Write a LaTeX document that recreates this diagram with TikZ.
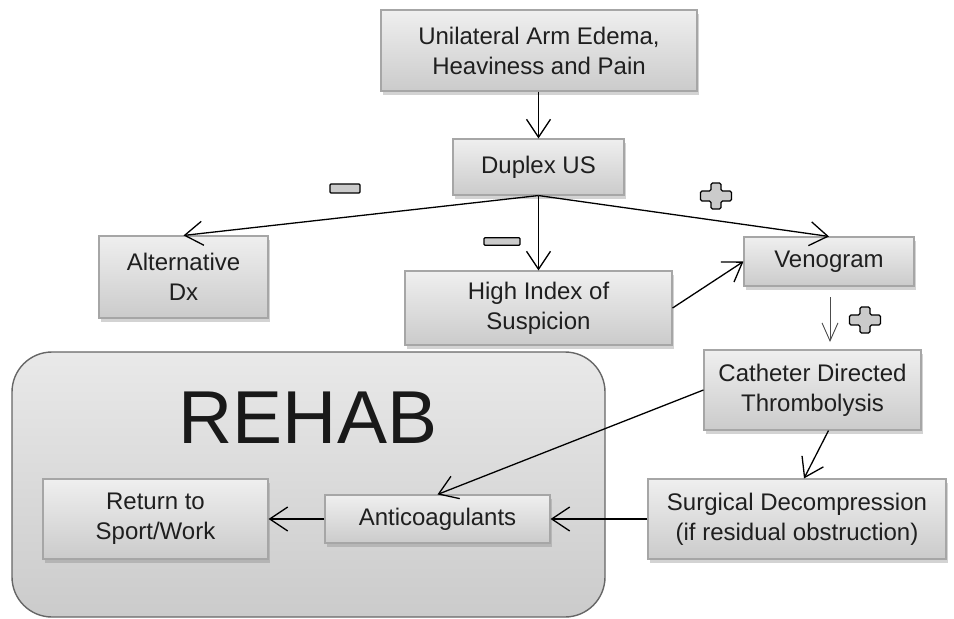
\documentclass[tikz,border=0pt]{standalone}
\usepackage{fontspec}
\setmainfont{Liberation Sans}
\usetikzlibrary{arrows.meta,shadows,positioning}
\definecolor{boxtop}{HTML}{EFEFEF}
\definecolor{boxbot}{HTML}{CBCBCB}
\definecolor{boxline}{HTML}{A6A6A6}
\definecolor{rehabtop}{HTML}{E9E9E9}
\definecolor{rehabbot}{HTML}{CBCBCB}
\definecolor{signfill}{HTML}{CBCBCB}
\tikzset{
  flowbox/.style={rectangle, draw=boxline, line width=1.1pt,
    top color=boxtop, bottom color=boxbot, align=center,
    inner sep=0pt, font=\fontsize{24}{30}\selectfont, text=black!88,
    drop shadow={opacity=0.35, shadow xshift=2pt, shadow yshift=-4pt}},
  conn/.style={line width=1.3pt, -{Straight Barb[length=18pt,width=24pt,line width=1.3pt]}},
  thinconn/.style={line width=0.9pt, draw=black!70, -{Straight Barb[length=18pt,width=16pt,line width=0.9pt]}},
  minussign/.style={rectangle, draw=black, fill=signfill, line width=1.2pt, inner sep=0pt, rounded corners=1pt},
  plussign/.pic={
    \draw[line width=1.2pt, fill=signfill, rounded corners=1.5pt]
      (-5,-13)--(5,-13)--(5,-5)--(15.5,-5)--(15.5,5)--(5,5)--(5,13)--(-5,13)--(-5,5)
      --(-15.5,5)--(-15.5,-5)--(-5,-5)--cycle;
  }
}
\begin{document}
\begin{tikzpicture}[x=1pt,y=-1pt]
\useasboundingbox (0,0) rectangle (954,619);

% REHAB container
\node[rectangle, rounded corners=40pt, draw=black!60, line width=1.4pt,
  top color=rehabtop, bottom color=rehabbot,
  minimum width=593pt, minimum height=265pt, inner sep=0pt] (rehabbox) at (308.5,484.5) {};
\node[font=\fontsize{75}{75}\selectfont, inner sep=0pt, text=black!90] (rehab) at (308,418) {REHAB};

% boxes
\node[flowbox, minimum width=316pt, minimum height=81pt] (edema) at (539,50.5) {Unilateral Arm Edema,\\Heaviness and Pain};
\node[flowbox, minimum width=171pt, minimum height=56pt] (duplex) at (538.5,167) {Duplex US};
\node[flowbox, minimum width=169pt, minimum height=82pt] (alt) at (183.5,277) {Alternative\\Dx};
\node[flowbox, minimum width=267pt, minimum height=74pt] (high) at (538.5,308) {High Index of\\Suspicion};
\node[flowbox, minimum width=170pt, minimum height=49pt] (veno) at (829,261.5) {Venogram};
\node[flowbox, minimum width=217pt, minimum height=80pt] (cath) at (812.5,390) {Catheter Directed\\Thrombolysis};
\node[flowbox, minimum width=298pt, minimum height=80pt] (surg) at (797,519) {Surgical Decompression\\(if residual obstruction)};
\node[flowbox, minimum width=225pt, minimum height=48pt] (anti) at (437.5,519) {Anticoagulants};
\node[flowbox, minimum width=225pt, minimum height=80pt] (ret) at (155.5,519) {Return to\\Sport/Work};

% signs
\node[minussign, minimum width=30pt, minimum height=9pt] (minusA) at (345,188.5) {};
\node[minussign, minimum width=36pt, minimum height=7.5pt] (minusB) at (502,241.5) {};
\pic (plusA) at (716,196) {plussign};
\pic (plusB) at (865,320) {plussign};

% connectors
\draw[conn] (duplex.north |- edema.south) -- (duplex.north);
\coordinate (split) at (duplex.south);
\draw[conn] (split) -- (alt.north);
\draw[conn] (split) -- (high.north);
\draw[conn] (split) -- (veno.north);
\draw[conn] (high.east) -- (veno.west);
\coordinate (vcA) at (830,297);
\coordinate (vcB) at (830,342);
\draw[thinconn] (vcA) -- (vcB);
\draw[conn] ([xshift=16pt]cath.south) -- ([xshift=7pt]surg.north);
\draw[conn] (cath.west) -- (anti.north);
\draw[conn] (surg.west) -- (anti.east);
\draw[conn] (anti.west) -- (ret.east);
\end{tikzpicture}
\end{document}
